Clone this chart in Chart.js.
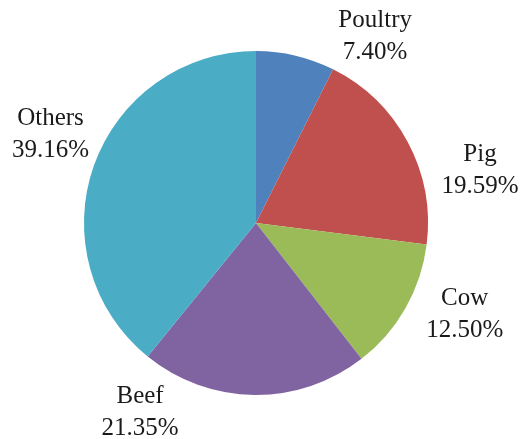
<!DOCTYPE html>
<html>
<head>
<meta charset="utf-8">
<script src="https://cdn.jsdelivr.net/npm/chart.js@4/dist/chart.umd.min.js"></script>
<style>
  html, body { margin: 0; padding: 0; background: #fff; }
  #wrap { width: 521px; height: 439px; position: relative; }
</style>
</head>
<body>
<div id="wrap"><canvas id="pieChart"></canvas></div>
<script>
// Share of each source (percent)
const categories = ['Poultry', 'Pig', 'Cow', 'Beef', 'Others'];
const shares = [7.40, 19.59, 12.50, 21.35, 39.16];
const sliceColors = ['#4F81BD', '#C0504D', '#9BBB59', '#8064A2', '#4BACC6'];

// label placement: [degrees shifted from the slice middle, distance as a multiple of radius]
const labelPlacement = [[19.3, 1.285], [15, 1.337], [-5.9, 1.326], [30.9, 1.29], [3.7, 1.30]];

// two-line "name / value%" labels drawn outside each slice
const outsideLabels = {
  id: 'outsideLabels',
  afterDatasetsDraw(chart) {
    const ctx = chart.ctx;
    const meta = chart.getDatasetMeta(0);
    ctx.save();
    ctx.font = '25px "Liberation Serif", "Times New Roman", serif';
    ctx.fillStyle = '#1a1a1a';
    ctx.textAlign = 'center';
    ctx.textBaseline = 'middle';
    meta.data.forEach((arc, i) => {
      const p = arc.getProps(['x', 'y', 'startAngle', 'endAngle', 'outerRadius'], true);
      const mid = (p.startAngle + p.endAngle) / 2 + labelPlacement[i][0] * Math.PI / 180;
      const r = p.outerRadius * labelPlacement[i][1];
      const x = p.x + Math.cos(mid) * r;
      const y = p.y + Math.sin(mid) * r;
      ctx.fillText(categories[i], x, y - 16);
      ctx.fillText(shares[i].toFixed(2) + '%', x, y + 16);
    });
    ctx.restore();
  }
};

new Chart(document.getElementById('pieChart'), {
  type: 'pie',
  data: {
    labels: categories,
    datasets: [{
      data: shares,
      backgroundColor: sliceColors,
      borderWidth: 0
    }]
  },
  options: {
    responsive: true,
    maintainAspectRatio: false,
    animation: false,
    layout: { padding: { top: 51, bottom: 44, left: 80, right: 89 } },
    plugins: {
      legend: { display: false },
      tooltip: { enabled: false }
    }
  },
  plugins: [outsideLabels]
});
</script>
</body>
</html>
